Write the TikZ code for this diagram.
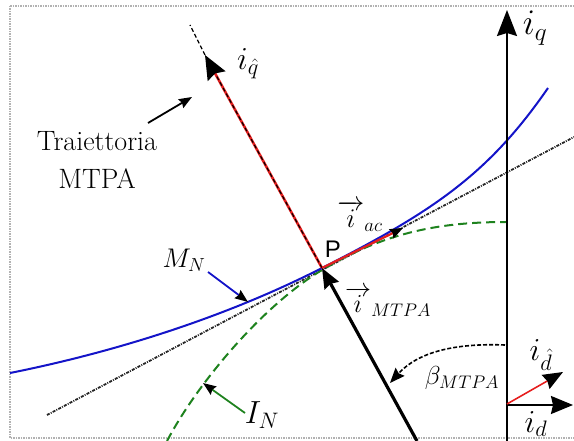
\RequirePackage{fix-cm}
\documentclass[tikz,border=0pt]{standalone}
\usepackage{fontspec}
\newfontfamily\pfont{Liberation Sans}
\usetikzlibrary{arrows.meta,calc}
\definecolor{curveblue}{RGB}{20,20,200}
\definecolor{curvegreen}{RGB}{30,130,30}
\definecolor{vecred}{RGB}{230,30,30}
\tikzset{
  fz/.style={font=\fontsize{#1}{#1}\selectfont},
  axisline/.style={line width=1.8pt, black},
  dashdotline/.style={line width=1.8pt, black!85, dash pattern=on 3pt off 1.2pt on 1pt off 1.2pt},
  lbl/.style={inner sep=0pt, fz=26}
}
\begin{document}
\begin{tikzpicture}[x=1pt,y=-1pt]
\useasboundingbox (0,0) rectangle (574,441);
% frame
\draw[gray!60, line width=1.6pt, dash pattern=on 1.5pt off 1pt] (10,6) -- (10,438) -- (600,438);
\draw[gray!60, line width=1.6pt, dash pattern=on 1.5pt off 1pt] (10,6) -- (600,6);

% coordinates
\coordinate (O) at (507,405);
\coordinate (P) at (322,268);
\coordinate (iqtop) at (507,10);
\coordinate (iqbot) at (507,441);
\coordinate (idtip) at (573,405);
\coordinate (idhtip) at (563,372);
\coordinate (qhtip) at (205,55);
\coordinate (qhend) at (190,25);
\coordinate (mbot) at (417,441);
\coordinate (actip) at (403,228);
\coordinate (ddA) at (47,415);
\coordinate (ddB) at (574,137);

% tangent dash-dot line
\draw[dashdotline] (ddA) -- (ddB);

% green current circle
\draw[curvegreen, line width=2pt, dash pattern=on 9pt off 5pt]
  (167,441) .. controls (197,384) and (262,306) .. (322,270)
            .. controls (382,234) and (436,222) .. (506,222);

% blue torque curve
\draw[curveblue, line width=2pt]
  (10,373) .. controls (110,353) and (222,319) .. (P)
           .. controls (432,212) and (488,175) .. (548,88);

% axes
\draw[axisline, -{Stealth[length=26pt,width=20pt,inset=3pt]}] (iqbot) -- (iqtop);
\draw[axisline, -{Stealth[length=22pt,width=18pt,inset=2pt]}] (O) -- (idtip);
\draw[vecred, line width=1.6pt, -{Stealth[length=20pt,width=16pt,inset=2pt,color=black]}] (507,404) -- (idhtip);

% q-hat axis
\draw[black, line width=1.3pt, dash pattern=on 4pt off 2.5pt] (qhtip) -- (qhend);
\draw[vecred, line width=2.6pt, -{Stealth[length=24pt,width=20pt,inset=3pt,color=black]}] (P) -- (qhtip);
\draw[black, line width=1.1pt, dash pattern=on 4pt off 2.5pt] (P) -- ($(P)!0.9!(qhtip)$);

% i_ac vector
\draw[vecred, line width=2.2pt, -{Stealth[length=13pt,width=10pt,inset=1.5pt,color=black]}] (P) -- (actip);

% i_MTPA vector
\draw[black, line width=3.2pt, -{Stealth[length=20pt,width=16pt,inset=2pt]}] (mbot) -- (P);

% beta arc
\coordinate (bs) at (505,345);
\coordinate (be) at (390,383);
\draw[black, line width=1.6pt, dash pattern=on 4pt off 2pt, -{Stealth[length=15pt,width=12pt,inset=2pt]}]
  (bs) .. controls (455,343) and (418,352) .. (be);

% labels
\node[lbl, fz=36] (lq) at (535,28) {$i_q$};
\node[lbl, fz=32] (ld) at (536,424) {$i_d$};
\node[lbl, fz=32] (ldh) at (541,355) {$i_{\hat{d}}$};
\node[lbl, fz=32] (lqh) at (248,64) {$i_{\hat{q}}$};
\node[inner sep=0pt, align=center, font=\fontsize{28}{38}\selectfont] (traj) at (97,160) {Traiettoria\\MTPA};
\node[inner sep=0pt, font=\pfont\fontsize{24}{24}\selectfont] (lp) at (333,249) {P};
\node[lbl, fz=27] (lac) at (360,216) {$\overrightarrow{i}_{ac}$};
\node[lbl, fz=26] (lmtpa) at (388,302) {$\overrightarrow{i}_{MTPA}$};
\node[lbl, fz=26] (lbeta) at (462,378) {$\beta_{MTPA}$};
\node[lbl, fz=27] (lmn) at (184,260) {$M_N$};
\node[lbl, fz=32] (lin) at (262,415) {$I_N$};

% annotation arrows
\coordinate (trajA) at (148,123);
\coordinate (trajB) at (192,97);
\draw[black, line width=1.8pt, -{Stealth[length=13pt,width=10pt,inset=1.5pt]}] (trajA) -- (trajB);
\coordinate (mnA) at (208,272);
\coordinate (mnB) at (248,302);
\draw[curveblue, line width=1.8pt, -{Stealth[length=13pt,width=10pt,inset=1.5pt,color=black]}] (mnA) -- (mnB);
\coordinate (inA) at (245,413);
\coordinate (inB) at (203,383);
\draw[curvegreen, line width=1.8pt, -{Stealth[length=13pt,width=10pt,inset=1.5pt,color=black]}] (inA) -- (inB);
\end{tikzpicture}
\end{document}
